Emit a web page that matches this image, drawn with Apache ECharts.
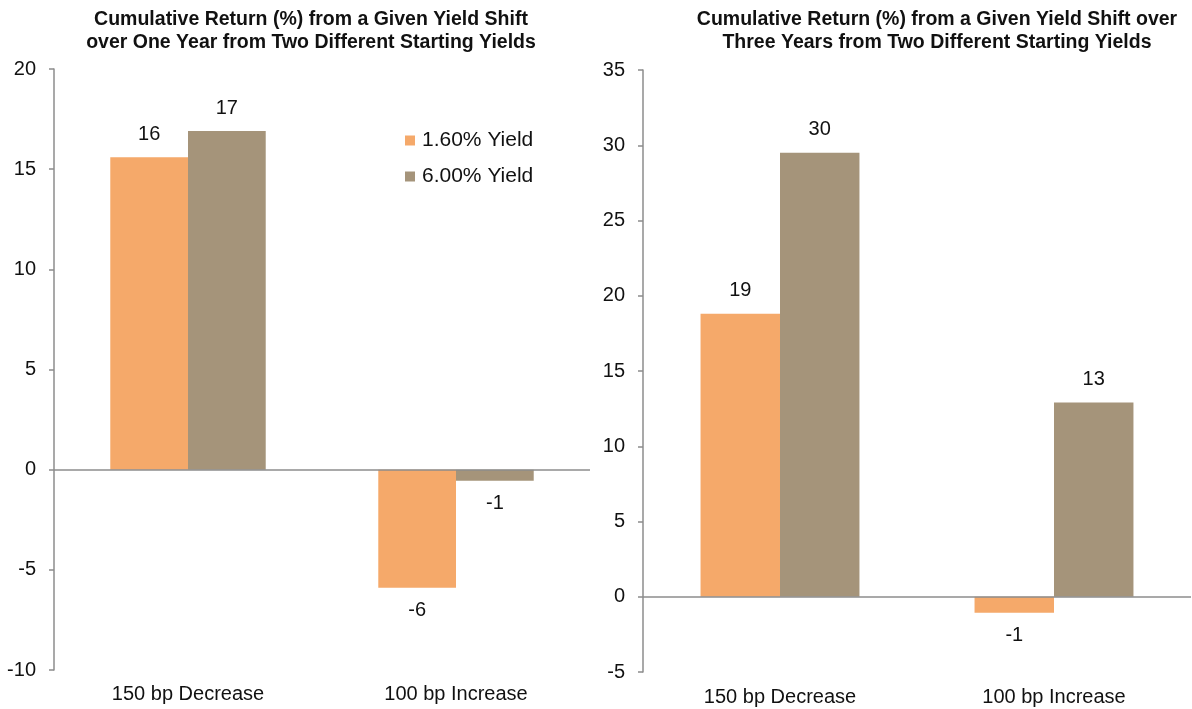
<!DOCTYPE html>
<html>
<head>
<meta charset="utf-8">
<script src="https://cdn.jsdelivr.net/npm/echarts@6/dist/echarts.min.js"></script>
<style>
html,body{margin:0;padding:0;background:#fff;}
#c{width:1192px;height:709px;}
</style>
</head>
<body>
<div id="c"></div>
<script>
const categories = ['150 bp Decrease', '100 bp Increase'];
const seriesNames = ['1.60% Yield', '6.00% Yield'];
const oneYearLow = [15.6, -5.9];
const oneYearHigh = [16.9, -0.55];
const threeYearLow = [18.8, -1.06];
const threeYearHigh = [29.5, 12.9];
const titleLeft = 'Cumulative Return (%) from a Given Yield Shift\nover One Year from Two Different Starting Yields';
const titleRight = 'Cumulative Return (%) from a Given Yield Shift over\nThree Years from Two Different Starting Yields';
const colors = ['#F5A96A', '#A5947A'];

const FONT = '"Liberation Sans", Arial, sans-serif';

function mkData(arr) {
  return arr.map(v => ({
    value: v,
    label: { position: v < 0 ? 'bottom' : 'top' }
  }));
}

function mkSeries(name, arr, idx, color, withZero) {
  const s = {
    name: name,
    type: 'bar',
    xAxisIndex: idx,
    yAxisIndex: idx,
    data: mkData(arr),
    barWidth: '29%',
    barGap: '0%',
    itemStyle: { color: color },
    label: {
      show: true,
      distance: 13,
      fontFamily: FONT,
      fontSize: 20,
      color: '#111',
      formatter: p => String(Math.round(p.value))
    }
  };
  if (withZero) {
    s.markLine = {
      silent: true,
      symbol: ['none', 'none'],
      label: { show: false },
      lineStyle: { color: '#8c8c8c', width: 1.5, type: 'solid' },
      data: [{ yAxis: 0 }],
      animation: false
    };
  }
  return s;
}

function mkY(idx, min, max) {
  return {
    type: 'value',
    gridIndex: idx,
    min: min, max: max, interval: 5,
    axisLine: { show: true, lineStyle: { color: '#8c8c8c', width: 1.5 } },
    axisTick: { show: true, length: 5, lineStyle: { color: '#8c8c8c', width: 1.5 } },
    splitLine: { show: false },
    axisLabel: { fontFamily: FONT, fontSize: 20, color: '#111', margin: 18 }
  };
}

function mkX(idx, margin) {
  return {
    type: 'category',
    gridIndex: idx,
    data: categories,
    position: 'bottom',
    axisLine: { show: false, onZero: false },
    axisTick: { show: false },
    axisLabel: { fontFamily: FONT, fontSize: 20, color: '#111', margin: margin }
  };
}

const chart = echarts.init(document.getElementById('c'), null, { renderer: 'canvas' });
chart.setOption({
  animation: false,
  color: colors,
  title: [
    { text: titleLeft, left: 306, textAlign: 'center', top: 3,
      textStyle: { fontFamily: FONT, fontSize: 19.5, fontWeight: 'bold', color: '#111', lineHeight: 23 } },
    { text: titleRight, left: 932, textAlign: 'center', top: 3,
      textStyle: { fontFamily: FONT, fontSize: 19.5, fontWeight: 'bold', color: '#111', lineHeight: 23 } }
  ],
  legend: {
    data: seriesNames,
    orient: 'vertical',
    left: 400, top: 125,
    itemWidth: 10, itemHeight: 10,
    itemGap: 15,
    icon: 'rect',
    textStyle: { fontFamily: FONT, fontSize: 21, color: '#111', padding: [0, 0, 0, 2] }
  },
  grid: [
    { left: 54, top: 69, width: 536, bottom: 39 },
    { left: 643, top: 70, width: 548, bottom: 37 }
  ],
  xAxis: [mkX(0, 14), mkX(1, 15)],
  yAxis: [mkY(0, -10, 20), mkY(1, -5, 35)],
  series: [
    mkSeries(seriesNames[0], oneYearLow, 0, colors[0], true),
    mkSeries(seriesNames[1], oneYearHigh, 0, colors[1], false),
    mkSeries(seriesNames[0], threeYearLow, 1, colors[0], true),
    mkSeries(seriesNames[1], threeYearHigh, 1, colors[1], false)
  ]
});
</script>
</body>
</html>
